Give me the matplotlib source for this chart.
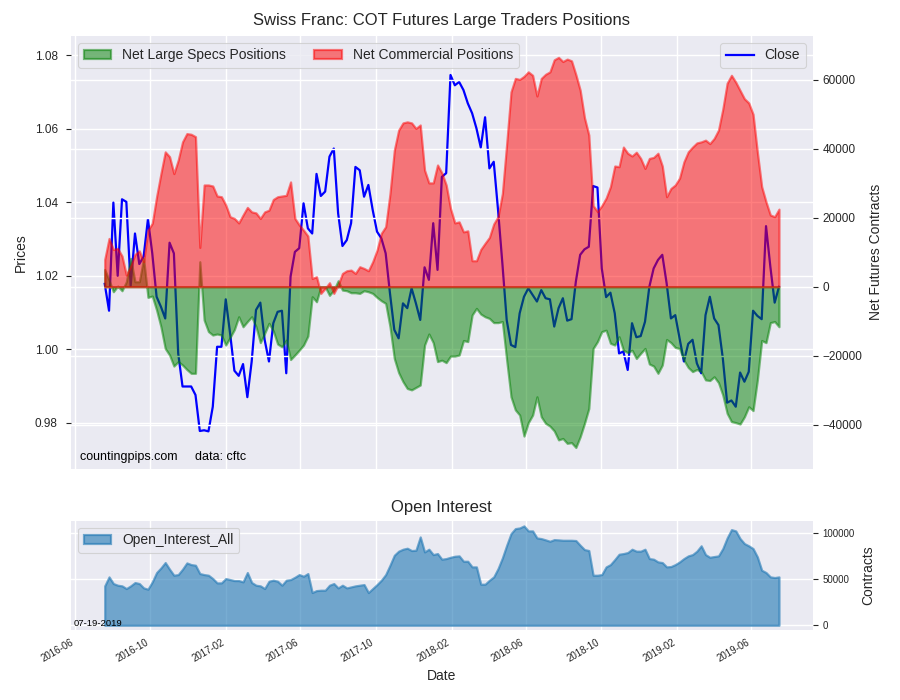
import matplotlib
matplotlib.use("Agg")
import matplotlib.pyplot as plt
import matplotlib.dates as mdates
import matplotlib.lines as mlines
import pandas as pd

start_date = "2016-07-19"
n_weeks = 157

close_prices = [1.0178, 1.0105, 1.0399, 1.0200, 1.0408, 1.0401, 1.0172, 1.0315, 1.0232, 1.0252,
 1.0354, 1.0261, 1.0143, 1.0116, 1.0084, 1.0290, 1.0261, 0.9989, 0.9899, 0.9899,
 0.9899, 0.9876, 0.9778, 0.9780, 0.9777, 0.9844, 1.0007, 1.0007, 1.0136, 1.0044,
 0.9942, 0.9928, 0.9960, 0.9870, 0.9967, 1.0107, 1.0127, 1.0026, 0.9967, 1.0071,
 1.0102, 1.0105, 0.9935, 1.0198, 1.0265, 1.0275, 1.0397, 1.0329, 1.0315, 1.0477,
 1.0417, 1.0429, 1.0524, 1.0546, 1.0370, 1.0281, 1.0297, 1.0343, 1.0496, 1.0487,
 1.0415, 1.0447, 1.0379, 1.0320, 1.0302, 1.0261, 1.0152, 1.0053, 1.0030, 1.0125,
 1.0112, 1.0166, 1.0125, 1.0080, 1.0223, 1.0189, 1.0343, 1.0216, 1.0469, 1.0479,
 1.0746, 1.0718, 1.0727, 1.0705, 1.0669, 1.0642, 1.0601, 1.0549, 1.0631, 1.0492,
 1.0510, 1.0379, 1.0234, 1.0080, 1.0012, 1.0006, 1.0098, 1.0143, 1.0166, 1.0148,
 1.0130, 1.0161, 1.0139, 1.0136, 1.0062, 1.0112, 1.0139, 1.0078, 1.0082, 1.0184,
 1.0257, 1.0272, 1.0279, 1.0444, 1.0440, 1.0220, 1.0142, 1.0154, 1.0098, 0.9989,
 0.9994, 0.9944, 1.0071, 1.0033, 1.0036, 1.0075, 1.0170, 1.0220, 1.0243, 1.0257,
 1.0180, 1.0084, 1.0093, 1.0030, 0.9967, 1.0015, 1.0026, 0.9962, 0.9935, 1.0093,
 1.0143, 1.0084, 1.0066, 0.9976, 0.9855, 0.9861, 0.9844, 0.9937, 0.9912, 0.9939,
 1.0105, 1.0091, 1.0082, 1.0335, 1.0225, 1.0127, 1.0170]

net_large_specs = [5000, 1930, -1450, 200, -1160, 1450, 8200, 1450, 1450, 8200,
 -3090, -2700, -6760, -11600, -17900, -19800, -23000, -21700, -22700, -24000,
 -25100, -25100, 7250, -9660, -13000, -14000, -13700, -14000, -16900, -14700,
 -12400, -8700, -11600, -10100, -8700, -11600, -16200, -13500, -10600, -12800,
 -16600, -17400, -15500, -21100, -19800, -18400, -16900, -14300, -2900, -4350,
 0, 0, -2500, -970, 1740, -970, -1160, -1740, -1740, -1930,
 -1160, -1450, -1930, -3090, -4060, -4830, -11600, -20800, -24900, -27500,
 -29500, -29900, -29200, -28500, -16900, -13700, -16200, -21700, -21300, -22000,
 -20100, -20100, -19800, -15600, -15900, -8200, -6280, -7920, -8700, -9180,
 -10400, -10400, -10100, -21300, -31900, -35700, -37200, -43300, -39400, -37200,
 -31900, -37700, -39600, -40400, -41800, -44400, -44000, -45400, -45200, -46600,
 -43500, -39600, -35300, -17900, -15900, -13000, -12600, -16400, -16900, -14500,
 -18400, -19100, -18400, -20800, -19300, -17900, -22400, -23000, -25100, -22700,
 -15300, -16200, -17600, -17900, -21300, -23400, -24600, -24000, -24600, -27000,
 -27200, -26100, -27800, -31400, -36700, -39100, -39400, -39800, -37700, -34800,
 -35900, -27000, -15600, -16200, -10400, -10100, -11600]

net_commercial = [7920, 14000, 10800, 11100, 8900, 3380, 6000, 9370, 10400, 7250,
 16400, 18400, 26100, 32800, 39100, 37700, 32800, 36700, 42000, 44400,
 44200, 43500, 11400, 29500, 29500, 29200, 26300, 26100, 23700, 20300,
 19800, 18500, 20800, 23000, 21700, 21400, 19800, 21700, 22200, 25300,
 26100, 26300, 26500, 30400, 19800, 17900, 16400, 14700, 2400, 2900,
 -1930, -480, 1160, -1930, 500, 3860, 4640, 4830, 3860, 5800,
 5310, 4640, 7250, 10600, 15500, 17400, 27000, 39600, 45400, 47500,
 47800, 47500, 45900, 46900, 33800, 30100, 30100, 35300, 33000, 29500,
 22700, 18500, 18800, 15900, 16200, 7540, 7540, 10800, 12600, 14300,
 18200, 20300, 27000, 41500, 56500, 60400, 60100, 61000, 62300, 61300,
 55300, 60400, 61600, 62300, 65800, 66500, 65300, 66000, 65500, 61500,
 57000, 49000, 44000, 23500, 21800, 23500, 25700, 29000, 35000, 34800,
 40500, 38700, 37900, 39000, 37200, 34300, 37200, 37500, 38700, 35000,
 26100, 28500, 29500, 31500, 36200, 39100, 40500, 41700, 42000, 42500,
 41500, 43000, 45400, 51500, 59000, 61300, 59300, 56900, 54500, 53300,
 50000, 39000, 29000, 24600, 20800, 20300, 22500]

open_interest = [42600, 52300, 45100, 43300, 42600, 39700, 42600, 46200, 45100, 40400,
 39000, 46900, 57000, 62000, 67800, 60600, 54100, 54800, 60600, 67400,
 65600, 64900, 55900, 54800, 54100, 50500, 45800, 45800, 50500, 49400,
 48300, 48300, 46900, 57000, 46200, 43300, 42600, 39700, 47600, 48700,
 47600, 43300, 48700, 49400, 51900, 54800, 53000, 55900, 35400, 37500,
 37900, 37900, 43300, 45100, 40400, 43300, 40400, 41500, 42600, 43300,
 44000, 35400, 39700, 44000, 48700, 54800, 64900, 75700, 80100, 82200,
 83300, 80800, 81100, 95500, 79300, 82200, 76400, 77500, 71400, 72100,
 73500, 74600, 75000, 69200, 69200, 63100, 63100, 44400, 44400, 48700,
 52300, 61300, 72800, 86500, 99100, 104500, 105200, 107400, 102000, 102000,
 94400, 93700, 92300, 90800, 92600, 92300, 91900, 91900, 91900, 91600,
 86500, 81800, 80800, 54100, 54100, 54800, 63100, 65600, 71000, 76800,
 77500, 78600, 82200, 80100, 80100, 82200, 72100, 71400, 68500, 67800,
 63100, 63500, 65600, 68500, 72100, 75000, 76400, 80100, 85900, 76400,
 73500, 74300, 75000, 82900, 94400, 103400, 102000, 93700, 88300, 85900,
 82900, 73900, 59500, 57000, 52300, 51600, 52300]

dates = pd.date_range(start_date, periods=n_weeks, freq="7D")

BG = "#EAEAF2"
TXT = "#262626"
plt.rcParams.update({
    "font.family": ["Liberation Sans", "DejaVu Sans"],
    "axes.facecolor": BG,
    "axes.edgecolor": "white",
    "axes.grid": True,
    "grid.color": "white",
    "grid.linewidth": 1.0,
    "axes.axisbelow": True,
    "text.color": TXT,
    "axes.labelcolor": TXT,
    "xtick.color": TXT,
    "ytick.color": TXT,
    "xtick.major.size": 3.5,
    "ytick.major.size": 3.5,
    "axes.spines.left": False,
    "axes.spines.right": False,
    "axes.spines.top": False,
    "axes.spines.bottom": False,
})

fig = plt.figure(figsize=(9, 7), dpi=100)
ax1 = fig.add_axes([0.0789, 0.3307, 0.8241, 0.6179])
ax3 = fig.add_axes([0.0789, 0.1000, 0.8241, 0.1561], sharex=ax1)

# Price line
ax1.plot(dates, close_prices, color="blue", linewidth=1.6, label="Close")
ax1.set_ylim(0.9676, 1.0852)
ax1.set_yticks([0.98, 1.00, 1.02, 1.04, 1.06, 1.08])
ax1.yaxis.set_major_formatter(matplotlib.ticker.FormatStrFormatter("%.2f"))
ax1.set_ylabel("Prices", fontsize=10, labelpad=5)
ax1.tick_params(axis="y", labelsize=8.5, pad=6)
ax1.tick_params(axis="x", labelbottom=False, length=0)
ax1.set_title("Swiss Franc: COT Futures Large Traders Positions", fontsize=12, pad=8)

# Net positions on twin axis
ax2 = ax1.twinx()
ax2.grid(True, color="white", linewidth=1.0)
ax2.fill_between(dates, 0, net_large_specs, color="green", alpha=0.5,
                 linewidth=1.6, label="Net Large Specs Positions")
ax2.fill_between(dates, 0, net_commercial, color="red", alpha=0.5,
                 linewidth=1.6, label="Net Commercial Positions")
ax2.set_ylim(-52700, 72700)
ax2.set_yticks([-40000, -20000, 0, 20000, 40000, 60000])
ax2.set_ylabel("Net Futures Contracts", fontsize=10, labelpad=5)
ax2.tick_params(axis="y", labelsize=8.5)
for sp in ax2.spines.values():
    sp.set_visible(False)

leg_kw = dict(frameon=True, facecolor=BG, edgecolor="#cccccc", framealpha=0.8, fontsize=10)
leg1 = ax2.legend(loc="upper left", ncol=2, **leg_kw)
leg1.get_frame().set_linewidth(0.8)
close_handle = mlines.Line2D([], [], color="blue", linewidth=1.6, label="Close")
leg2 = ax2.legend(handles=[close_handle], loc="upper right", **leg_kw)
leg2.get_frame().set_linewidth(0.8)
ax2.add_artist(leg1)

ax1.text(0.012, 0.012, "countingpips.com     data: cftc", transform=ax1.transAxes,
         fontsize=9, color="black", ha="left", va="bottom")

# Open interest panel
ax3.fill_between(dates, 0, open_interest, color="#1f77b4", alpha=0.6,
                 linewidth=1.6, label="Open_Interest_All")
ax3.set_ylim(-5100, 113000)
ax3.yaxis.tick_right()
ax3.yaxis.set_label_position("right")
ax3.set_yticks([0, 50000, 100000])
ax3.tick_params(axis="y", labelsize=7)
ax3.set_ylabel("Contracts", fontsize=10, labelpad=5)
ax3.set_title("Open Interest", fontsize=12, pad=6)
ax3.set_xlabel("Date", fontsize=10)
leg3 = ax3.legend(loc="upper left", **leg_kw)
leg3.get_frame().set_linewidth(0.8)
ax3.text(0.004, 0.02, "07-19-2019", transform=ax3.transAxes, fontsize=6.8,
         color="black", ha="left", va="bottom")

ax3.xaxis.set_major_locator(mdates.MonthLocator(bymonth=[2, 6, 10]))
ax3.xaxis.set_major_formatter(mdates.DateFormatter("%Y-%m"))
ax3.tick_params(axis="x", labelsize=7, length=0, pad=5)
for lab in ax3.get_xticklabels():
    lab.set_rotation(30)
    lab.set_ha("right")

fig.savefig("out.png", dpi=100)
